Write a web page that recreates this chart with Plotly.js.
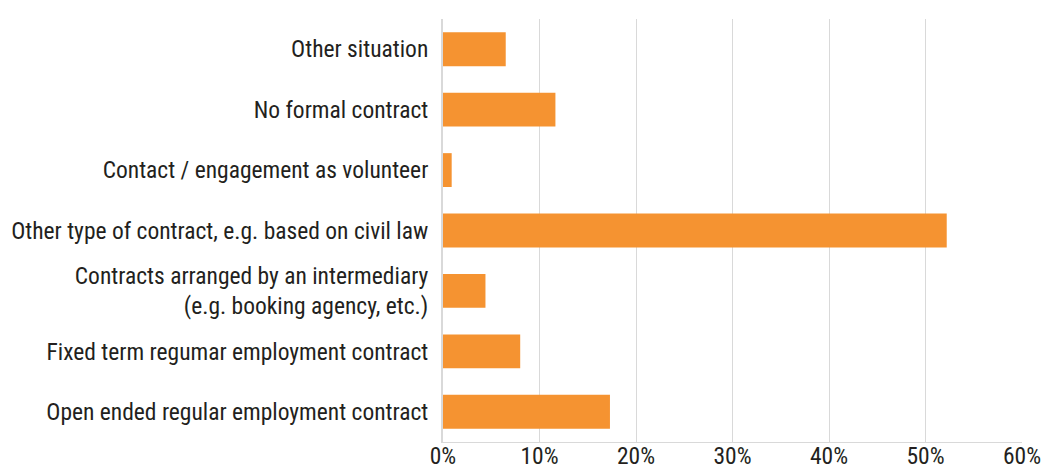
<!DOCTYPE html>
<html>
<head>
<meta charset="utf-8">
<script src="https://cdn.plot.ly/plotly-3.0.1.min.js"></script>
<style>html,body{margin:0;padding:0;background:#fff;}#chart{width:1047px;height:467px;}</style>
</head>
<body>
<div id="chart"></div>
<script>
var categories = [
  "Open ended regular employment contract",
  "Fixed term regumar employment contract",
  "Contracts arranged by an intermediary<br>(e.g. booking agency, etc.)",
  "Other type of contract, e.g. based on civil law",
  "Contact / engagement as volunteer",
  "No formal contract",
  "Other situation"
];
var shares = [0.173, 0.080, 0.044, 0.522, 0.009, 0.1165, 0.065];
var tickValues = [0, 0.1, 0.2, 0.3, 0.4, 0.5, 0.6];
var tickLabels = ["0%", "10%", "20%", "30%", "40%", "50%", "60%"];

var fontFamily = '"Roboto Condensed", Roboto, sans-serif';

Plotly.newPlot('chart', [{
  type: 'bar',
  orientation: 'h',
  y: categories,
  x: shares,
  marker: {color: '#F59331'},
  hoverinfo: 'none'
}], {
  width: 1047, height: 467,
  margin: {l: 442.5, r: 25, t: 19, b: 25},
  paper_bgcolor: '#fff', plot_bgcolor: '#fff',
  bargap: 0.44,
  showlegend: false,
  font: {family: fontFamily, size: 23.5, color: '#231f20'},
  xaxis: {
    range: [0, 0.6],
    tickvals: tickValues,
    ticktext: tickLabels,
    showgrid: true, gridcolor: '#d9d9d9', gridwidth: 1,
    showline: true, linecolor: '#d9d9d9', linewidth: 1,
    zeroline: false,
    ticks: '', ticklabelstandoff: -7,
    tickfont: {family: fontFamily, size: 23.5, color: '#231f20'},
    fixedrange: true
  },
  yaxis: {
    type: 'category',
    categoryorder: 'array', categoryarray: categories,
    range: [-0.5, 6.5],
    showgrid: false,
    showline: true, linecolor: '#d9d9d9', linewidth: 2,
    zeroline: false,
    ticks: '', ticklabelstandoff: 8,
    tickfont: {family: fontFamily, size: 23.5, color: '#231f20'},
    fixedrange: true
  }
}, {displayModeBar: false, staticPlot: true});
</script>
</body>
</html>
